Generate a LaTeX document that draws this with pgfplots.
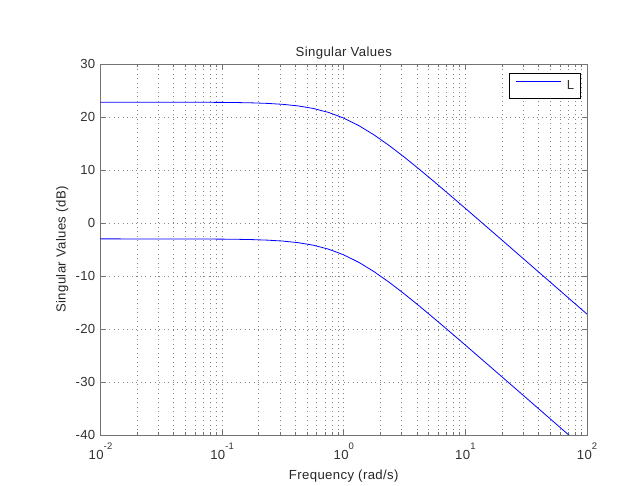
\documentclass[border=0pt]{standalone}
\usepackage{fontspec}
\setmainfont{Liberation Sans}
\usepackage{pgfplots}
\pgfplotsset{compat=1.18}
\definecolor{axgray}{RGB}{115,115,115}
\definecolor{gridgray}{RGB}{135,135,135}
\newcommand{\tfont}{\fontsize{13.2}{15}\selectfont\addfontfeature{LetterSpace=3}}
\newcommand{\pw}[1]{10\raisebox{10bp}{\fontsize{9.5}{10}\selectfont #1}}
\begin{document}
\begin{tikzpicture}[x=1bp,y=1bp]
\useasboundingbox (0,0) rectangle (643,486);
\fill[white] (0,0) rectangle (643,486);
\begin{axis}[
  at={(100.5bp,51bp)}, anchor=south west,
  scale only axis, width=486.5bp, height=371bp,
  xmode=log, xmin=0.01, xmax=100, ymin=-40, ymax=30,
  xtick={0.01,0.1,1,10,100},
  xticklabels={\pw{-2},\pw{-1},\pw{0},\pw{1},\pw{2}},
  ytick={-40,-30,-20,-10,0,10,20,30},
  yticklabels={-40,-30,-20,-10,0,10,20,30},
  minor y tick num=0,
  grid=both,
  major grid style={dash pattern=on 1bp off 3.5bp, gridgray, line width=0.8bp},
  minor grid style={dash pattern=on 1bp off 3.5bp, gridgray, line width=0.8bp},
  tick align=inside,
  major tick length=5bp, minor tick length=3bp,
  axis line style={axgray, line width=0.8bp},
  every tick/.style={axgray, line width=0.7bp},
  tick label style={font=\tfont, text=black!80},
  xticklabel style={anchor=base, inner sep=0pt, yshift=-25bp},
  yticklabel style={anchor=east, inner sep=0pt, xshift=-5bp},
  every axis title shift=0pt,
  title={Singular Values},
  title style={at={(axis description cs:0.5,1)}, anchor=base, inner sep=0pt, yshift=7bp, font=\tfont, text=black!85},
  xlabel={Frequency (rad/s)},
  xlabel style={at={(axis description cs:0.5,0)}, anchor=base, inner sep=0pt, yshift=-45bp, font=\tfont, text=black!85},
  ylabel={Singular Values (dB)},
  ylabel style={at={(axis description cs:-0.0719,0.5)}, anchor=base, inner sep=0pt, font=\tfont, text=black!85},
  legend style={at={(rel axis cs:1,1)}, anchor=north east, xshift=-6bp, yshift=-9bp,
    draw=black, line width=0.8bp, fill=white, inner xsep=6.5bp, inner ysep=7bp,
    column sep=5bp, nodes={inner sep=0pt},
    font=\tfont, text=black!80},
  legend image code/.code={\draw[#1, blue, line width=1.2bp] (0bp,4.5bp) -- (45bp,4.5bp);},
  legend cell align=left,
]
\addplot[blue, line width=0.8bp] coordinates {
(0.01,22.800) (0.031623,22.796) (0.1,22.757) (0.13335,22.723) (0.17783,22.665)
(0.23714,22.562) (0.31623,22.386) (0.42170,22.089) (0.56234,21.607) (0.74989,20.862)
(1,19.790) (1.33352,18.362) (1.77828,16.607) (2.37137,14.589) (3.16228,12.386)
(4.21697,10.062) (5.62341,7.665) (7.49894,5.223) (10,2.757) (17.7828,-2.214)
(31.6228,-7.204) (56.2341,-12.201) (100,-17.200)
};
\addlegendentry{L}
\addplot[blue, line width=0.8bp, forget plot] coordinates {
(0.01,-3.000) (0.031623,-3.004) (0.1,-3.043) (0.13335,-3.077) (0.17783,-3.135)
(0.23714,-3.238) (0.31623,-3.414) (0.42170,-3.711) (0.56234,-4.193) (0.74989,-4.938)
(1,-6.010) (1.33352,-7.438) (1.77828,-9.193) (2.37137,-11.211) (3.16228,-13.414)
(4.21697,-15.738) (5.62341,-18.135) (7.49894,-20.577) (10,-23.043) (17.7828,-28.014)
(31.6228,-33.004) (56.2341,-38.001) (100,-43.000)
};
\end{axis}
\end{tikzpicture}
\end{document}
